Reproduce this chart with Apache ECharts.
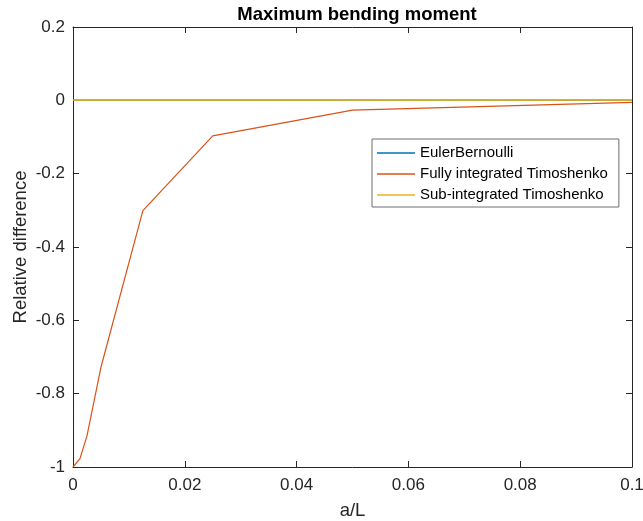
<!DOCTYPE html>
<html>
<head>
<meta charset="utf-8">
<script src="https://cdn.jsdelivr.net/npm/echarts@6/dist/echarts.min.js"></script>
<style>html,body{margin:0;padding:0;background:#fff}#c{width:643px;height:521px}</style>
</head>
<body>
<div id="c"></div>
<script>
var aOverL = [0, 0.00125, 0.0025, 0.005, 0.0125, 0.025, 0.05, 0.1];
var eulerBernoulli = [0, 0, 0, 0, 0, 0, 0, 0];
var fullyIntegrated = [-1, -0.977, -0.915, -0.728, -0.301, -0.097, -0.0265, -0.0055];
var subIntegrated = [0, 0, 0, 0, 0, 0, 0, 0];
var seriesNames = ['EulerBernoulli', 'Fully integrated Timoshenko', 'Sub-integrated Timoshenko'];
var seriesColors = ['#0072BD', '#D95319', '#EDB120'];

function pairs(xs, ys) { return xs.map(function (x, i) { return [x, ys[i]]; }); }

var font = 'Liberation Sans, Arial, Helvetica, sans-serif';
var ink = '#262626';
var chart = echarts.init(document.getElementById('c'), null, { renderer: 'canvas' });
function axisCommon() {
  return {
    axisLine: { show: true, onZero: false, lineStyle: { color: ink, width: 1 } },
    axisTick: { show: true, inside: true, length: 6, lineStyle: { color: ink } },
    splitLine: { show: false },
    nameMoveOverlap: false
  };
}
chart.setOption({
  animation: false,
  backgroundColor: '#fff',
  title: {
    text: 'Maximum bending moment', left: 352, top: 0, textAlign: 'center',
    textStyle: { fontFamily: font, fontSize: 18.5, fontWeight: 'bold', color: '#000' }
  },
  grid: { left: 73, right: 11, top: 27, bottom: 54, containLabel: false, outerBoundsMode: 'none' },
  legend: {
    orient: 'vertical', left: 372, top: 139,
    data: seriesNames.map(function (n) { return { name: n, icon: 'rect' }; }),
    backgroundColor: '#fff',
    borderColor: '#6e6e6e', borderWidth: 1, borderRadius: 0,
    padding: [4, 11, 2, 5],
    itemWidth: 38, itemHeight: 1.5, itemGap: 1,
    textStyle: { fontFamily: font, fontSize: 15, color: '#000', lineHeight: 20 }
  },
  xAxis: [
    Object.assign(axisCommon(), {
      type: 'value', min: 0, max: 0.1, interval: 0.02, position: 'bottom',
      name: 'a/L', nameLocation: 'middle', nameGap: 34,
      nameTextStyle: { fontFamily: font, fontSize: 18.5, color: ink },
      axisLabel: { fontFamily: font, fontSize: 17, color: ink, margin: 10 }
    }),
    Object.assign(axisCommon(), {
      type: 'value', min: 0, max: 0.1, interval: 0.02, position: 'top',
      axisLabel: { show: false }
    })
  ],
  yAxis: [
    Object.assign(axisCommon(), {
      type: 'value', min: -1, max: 0.2, interval: 0.2, position: 'left',
      name: 'Relative difference', nameLocation: 'middle', nameGap: 43,
      nameTextStyle: { fontFamily: font, fontSize: 18.5, color: ink },
      axisLabel: { fontFamily: font, fontSize: 17, color: ink, margin: 8 }
    }),
    Object.assign(axisCommon(), {
      type: 'value', min: -1, max: 0.2, interval: 0.2, position: 'right',
      axisLabel: { show: false }
    })
  ],
  series: [
    { name: seriesNames[0], type: 'line', data: pairs(aOverL, eulerBernoulli), symbol: 'none',
      lineStyle: { color: seriesColors[0], width: 1.5 }, itemStyle: { color: seriesColors[0] } },
    { name: seriesNames[1], type: 'line', data: pairs(aOverL, fullyIntegrated), symbol: 'none',
      lineStyle: { color: seriesColors[1], width: 1.2 }, itemStyle: { color: seriesColors[1] } },
    { name: seriesNames[2], type: 'line', data: pairs(aOverL, subIntegrated), symbol: 'none',
      lineStyle: { color: seriesColors[2], width: 1.5, opacity: 0.85 }, itemStyle: { color: seriesColors[2] } }
  ]
});
</script>
</body>
</html>
